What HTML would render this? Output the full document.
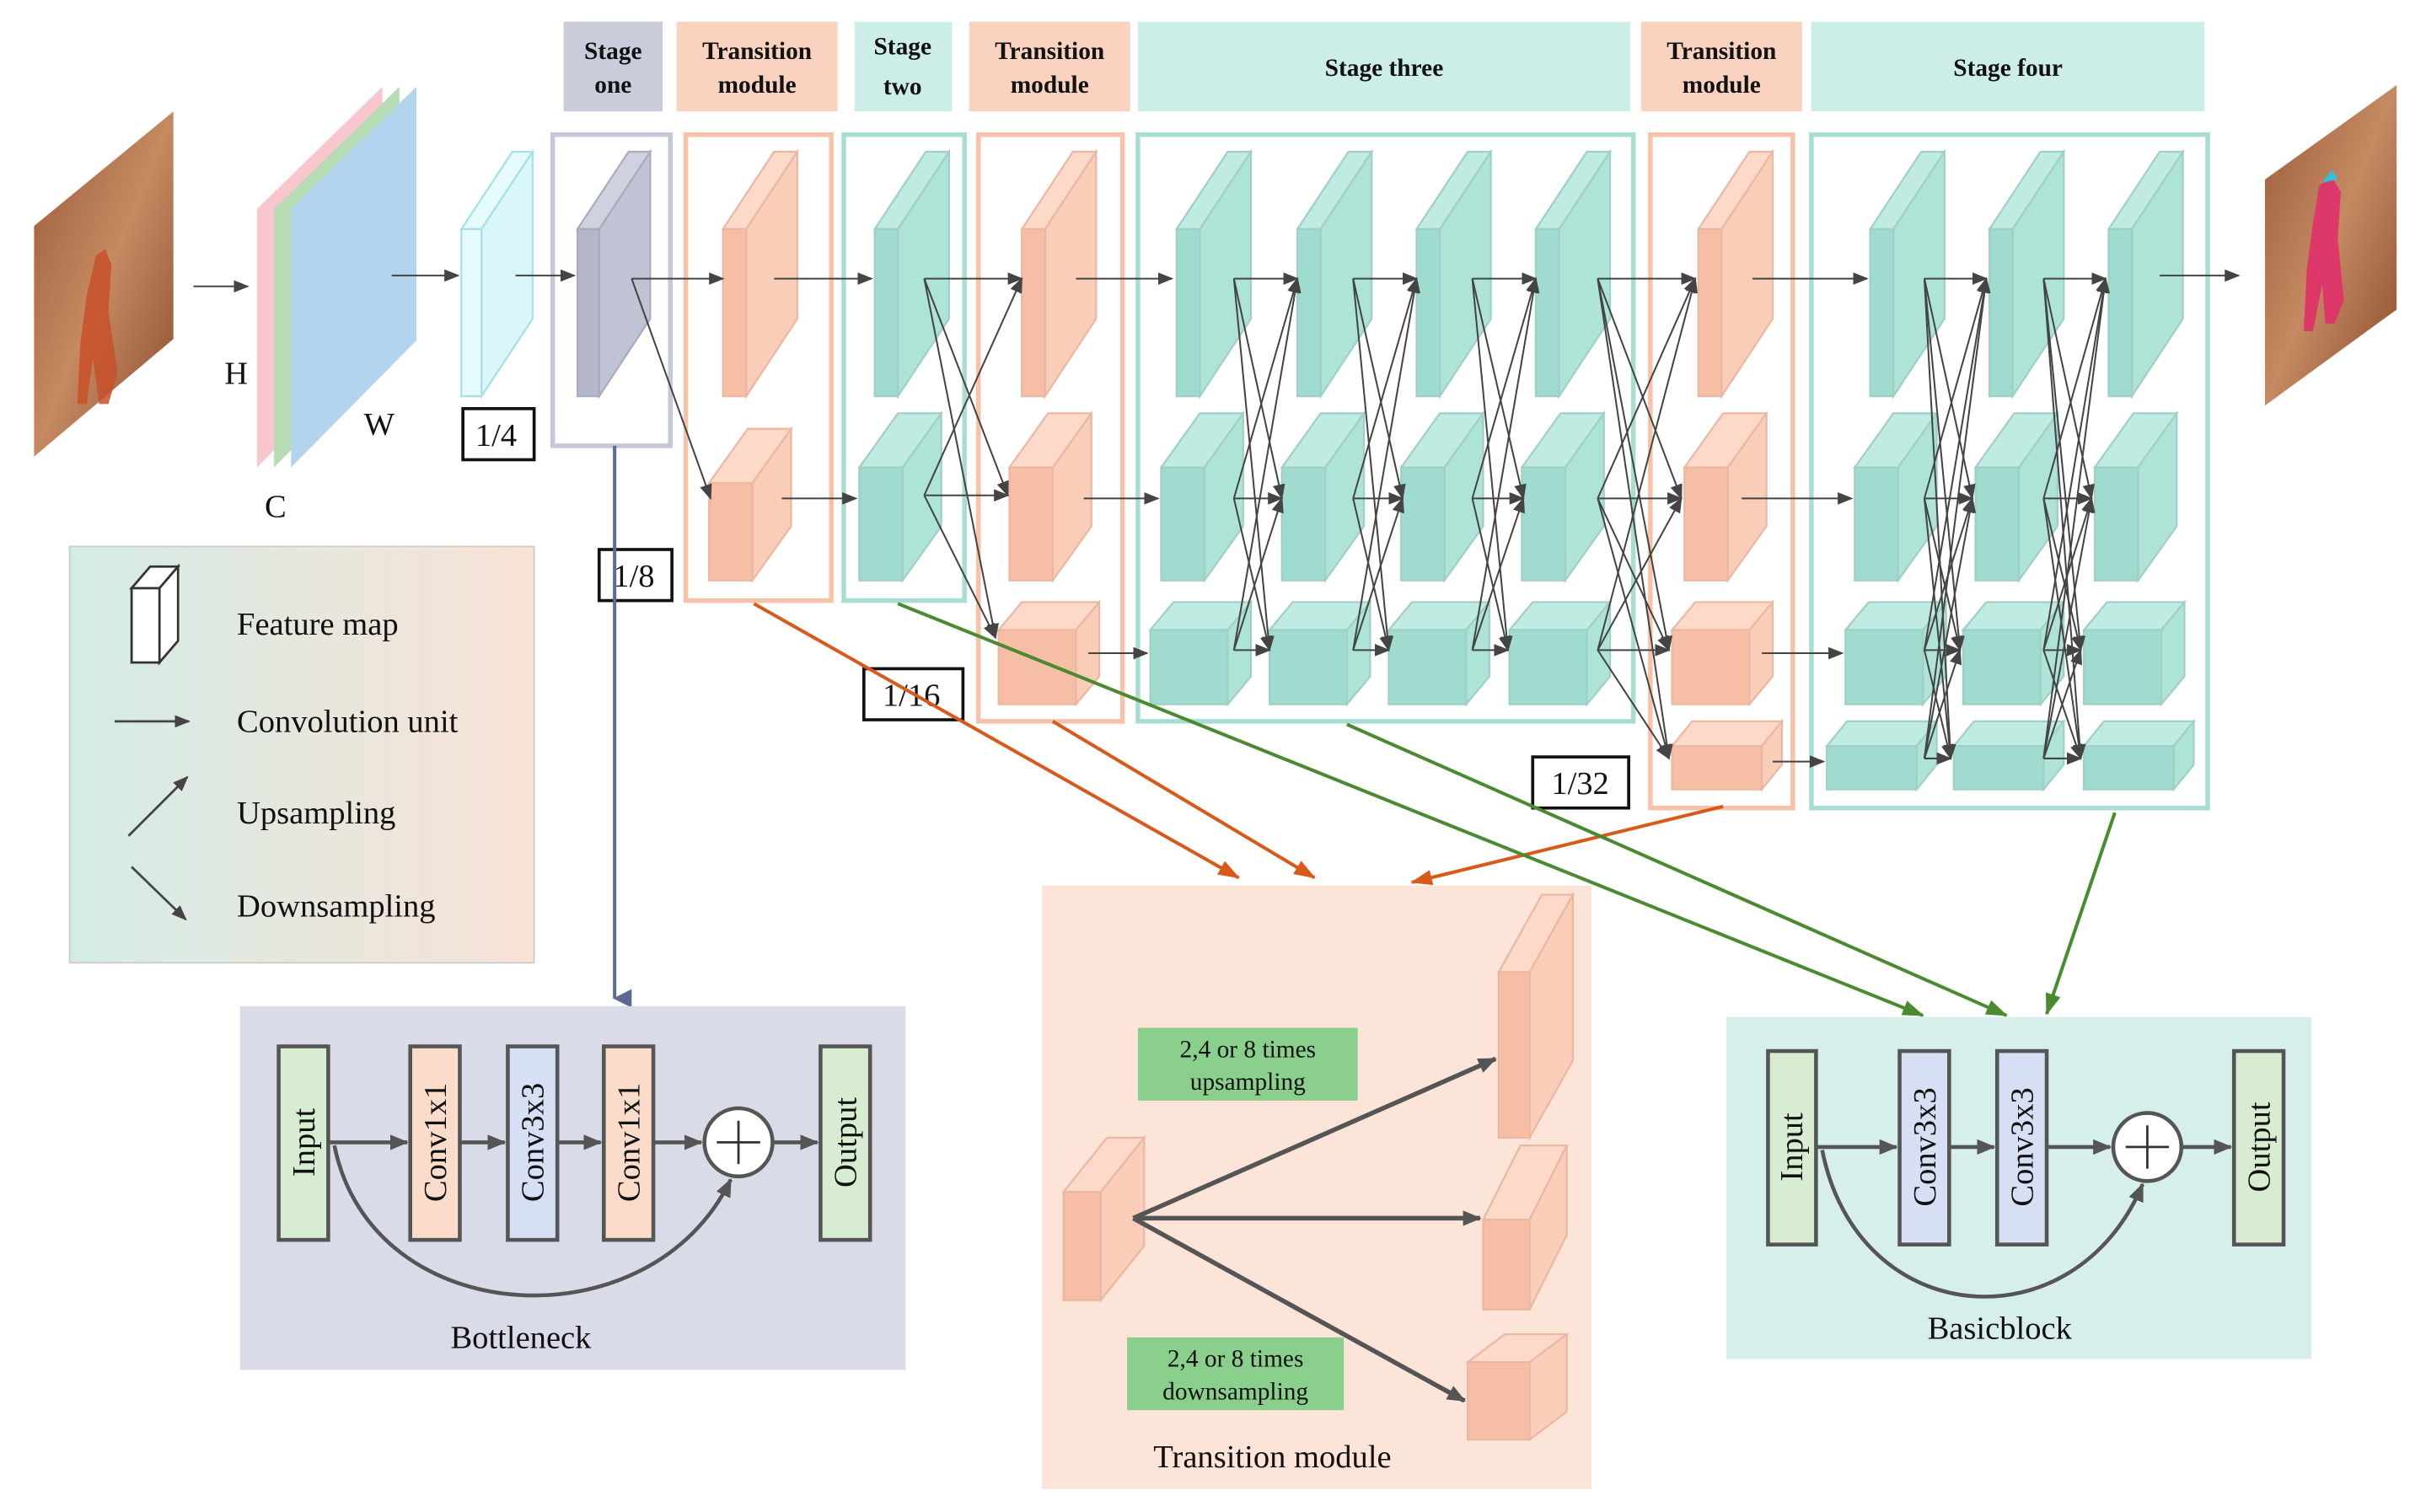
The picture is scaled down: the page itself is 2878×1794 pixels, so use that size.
<!DOCTYPE html>
<html><head><meta charset="utf-8"><style>
html,body{margin:0;padding:0;background:#fff;}
svg{display:block;}
text{font-family:"Liberation Serif",serif;fill:#111;}
.h{font-weight:bold;font-size:16px;text-anchor:middle;}
.b{font-size:21px;}
.v{font-size:21px;text-anchor:middle;}
</style></head><body>
<svg id="s" width="2878" height="1794" viewBox="0 0 1567 976.8" preserveAspectRatio="none" xmlns="http://www.w3.org/2000/svg">
<defs>
<marker id="a" markerWidth="10" markerHeight="8" refX="9" refY="4" orient="auto" markerUnits="userSpaceOnUse"><path d="M0,0L10,4L0,8z" fill="#444"/></marker>
<marker id="ab" markerWidth="12" markerHeight="10" refX="11" refY="5" orient="auto" markerUnits="userSpaceOnUse"><path d="M0,0L12,5L0,10z" fill="#555"/></marker>
<marker id="ao" markerWidth="14" markerHeight="10" refX="13" refY="5" orient="auto" markerUnits="userSpaceOnUse"><path d="M0,0L14,5L0,10z" fill="#d85a1b"/></marker>
<marker id="ag" markerWidth="14" markerHeight="10" refX="13" refY="5" orient="auto" markerUnits="userSpaceOnUse"><path d="M0,0L14,5L0,10z" fill="#4a8a30"/></marker>
<marker id="av" markerWidth="12" markerHeight="12" refX="6" refY="11" orient="auto-start-reverse" markerUnits="userSpaceOnUse"><path d="M0,0L6,12L12,0z" fill="#5a6a90"/></marker>
<linearGradient id="lg" x1="0" x2="1"><stop offset="0" stop-color="#d3ece6"/><stop offset="1" stop-color="#f9e2d6"/></linearGradient>
<linearGradient id="ph" x1="0" y1="0" x2="1" y2="1"><stop offset="0" stop-color="#9a5a38"/><stop offset="0.5" stop-color="#c58a62"/><stop offset="1" stop-color="#8a4a2a"/></linearGradient>
</defs>

<rect x="364" y="14" width="64" height="58" fill="#c9ccdb"/>
<rect x="437" y="14" width="104" height="58" fill="#f9d3c0"/>
<rect x="552" y="14" width="63" height="58" fill="#cdeee8"/>
<rect x="626" y="14" width="104" height="58" fill="#f9d3c0"/>
<rect x="735" y="14" width="318" height="58" fill="#cdeee8"/>
<rect x="1060" y="14" width="104" height="58" fill="#f9d3c0"/>
<rect x="1170" y="14" width="254" height="58" fill="#cdeee8"/>
<text class="h" x="396" y="38">Stage</text><text class="h" x="396" y="60">one</text>
<text class="h" x="489" y="38">Transition</text><text class="h" x="489" y="60">module</text>
<text class="h" x="583" y="35">Stage</text><text class="h" x="583" y="61">two</text>
<text class="h" x="678" y="38">Transition</text><text class="h" x="678" y="60">module</text>
<text class="h" x="894" y="49">Stage three</text>
<text class="h" x="1112" y="38">Transition</text><text class="h" x="1112" y="60">module</text>
<text class="h" x="1297" y="49">Stage four</text>

<g fill="none" stroke-width="3">
<rect x="357" y="87" width="76" height="201" stroke="#c5c8d8"/>
<rect x="443" y="87" width="94" height="301" stroke="#f6c3aa"/>
<rect x="545" y="87" width="78" height="301" stroke="#a9ddd3"/>
<rect x="632" y="87" width="93" height="379" stroke="#f6c3aa"/>
<rect x="735" y="87" width="320" height="379" stroke="#a9ddd3"/>
<rect x="1066" y="87" width="92" height="435" stroke="#f6c3aa"/>
<rect x="1170" y="87" width="256" height="435" stroke="#a9ddd3"/>
</g>

<polygon points="22,146 112,72 112,219 22,295" fill="url(#ph)"/>
<path d="M62,165 l6,-4 l4,10 l-2,30 l6,40 l-6,20 l-6,0 l-4,-30 l-4,30 l-6,0 l2,-40 l4,-30z" fill="#c8502a" opacity="0.85"/>
<polygon points="1463,116 1548,55 1548,200 1463,262" fill="url(#ph)"/>
<path d="M1498,120 l8,-6 l6,10 l-2,30 l4,40 l-6,15 l-6,0 l-2,-25 l-6,30 l-6,0 l2,-40 l4,-30z" fill="#e0306a" opacity="0.9"/>
<path d="M1500,118 l6,-8 l4,6z" fill="#30c0e0"/>

<polygon points="166,135 247,56 247,220 166,302" fill="#f8c6cc"/>
<polygon points="177,135 258,56 258,220 177,302" fill="#b7dcb4"/>
<polygon points="188,135 269,56 269,220 188,302" fill="#b3d4ee"/>
<text class="b" x="145" y="248">H</text>
<text class="b" x="235" y="281">W</text>
<text class="b" x="171" y="334">C</text>

<polygon points="298,148 331,98 344,98 311,148" fill="#e6fbfc" stroke="#a5e0e8" stroke-width="1.2"/>
<polygon points="311,148 344,98 344,206 311,256" fill="#d9f7f9" stroke="#a5e0e8" stroke-width="1.2"/>
<rect x="298" y="148" width="13" height="108" fill="#e4fafb" stroke="#a5e0e8" stroke-width="1.2"/>

<g id="boxes"></g>
<g id="lines" stroke="#444" stroke-width="1.1" fill="none"></g>

<g fill="#fff" stroke="#111" stroke-width="2">
<rect x="299" y="264" width="46" height="33"/>
<rect x="387" y="355" width="47" height="33"/>
<rect x="558" y="432" width="64" height="33"/>
<rect x="990" y="489" width="62" height="33"/>
</g>
<text class="b" x="307" y="288">1/4</text>
<text class="b" x="396" y="379">1/8</text>
<text class="b" x="570" y="456">1/16</text>
<text class="b" x="1002" y="513">1/32</text>

<line x1="397" y1="288" x2="397" y2="645" stroke="#5a6a90" stroke-width="2.2" marker-end="url(#av)"/>
<g stroke="#d85a1b" stroke-width="2.2" fill="none">
<line x1="487" y1="390" x2="800" y2="567" marker-end="url(#ao)"/>
<line x1="680" y1="466" x2="849" y2="567" marker-end="url(#ao)"/>
<line x1="1113" y1="521" x2="912" y2="570" marker-end="url(#ao)"/>
</g>
<g stroke="#4a8a30" stroke-width="2.2" fill="none">
<line x1="580" y1="390" x2="1242" y2="656" marker-end="url(#ag)"/>
<line x1="870" y1="468" x2="1296" y2="656" marker-end="url(#ag)"/>
<line x1="1366" y1="525" x2="1322" y2="655" marker-end="url(#ag)"/>
</g>

<rect x="45" y="353" width="300" height="269" fill="url(#lg)" stroke="#ccc" stroke-width="1"/>
<polygon points="85,380 97,366 115,366 103,380" fill="#fff" stroke="#333" stroke-width="1.5"/>
<polygon points="103,380 115,366 115,414 103,428" fill="#fff" stroke="#333" stroke-width="1.5"/>
<rect x="85" y="380" width="18" height="48" fill="#fff" stroke="#333" stroke-width="1.5"/>
<text class="b" x="153" y="410">Feature map</text>
<line x1="74" y1="466" x2="122" y2="466" stroke="#444" stroke-width="1.5" marker-end="url(#a)"/>
<text class="b" x="153" y="473">Convolution unit</text>
<line x1="83" y1="540" x2="121" y2="502" stroke="#444" stroke-width="1.5" marker-end="url(#a)"/>
<text class="b" x="153" y="532">Upsampling</text>
<line x1="85" y1="560" x2="120" y2="594" stroke="#444" stroke-width="1.5" marker-end="url(#a)"/>
<text class="b" x="153" y="592">Downsampling</text>

<rect x="155" y="650" width="430" height="235" fill="#d9dbe8"/>
<g stroke="#555" stroke-width="2.5">
<rect x="180" y="676" width="32" height="125" fill="#d7ecd0"/>
<rect x="265" y="676" width="32" height="125" fill="#fbdcca"/>
<rect x="328" y="676" width="32" height="125" fill="#d6dff3"/>
<rect x="390" y="676" width="32" height="125" fill="#fbdcca"/>
<rect x="530" y="676" width="32" height="125" fill="#d7ecd0"/>
<circle cx="477" cy="738" r="22" fill="#fff"/>
</g>
<path d="M463,738h28M477,724v28" stroke="#333" stroke-width="1.5"/>
<g stroke="#555" stroke-width="2.5" fill="none">
<line x1="212" y1="738" x2="263" y2="738" marker-end="url(#ab)"/>
<line x1="297" y1="738" x2="326" y2="738" marker-end="url(#ab)"/>
<line x1="360" y1="738" x2="388" y2="738" marker-end="url(#ab)"/>
<line x1="422" y1="738" x2="453" y2="738" marker-end="url(#ab)"/>
<line x1="499" y1="738" x2="528" y2="738" marker-end="url(#ab)"/>
<path d="M216,740 C240,860 420,870 472,762" marker-end="url(#ab)"/>
</g>
<text class="v" transform="translate(203,738) rotate(-90)">Input</text>
<text class="v" transform="translate(288,738) rotate(-90)">Conv1x1</text>
<text class="v" transform="translate(351,738) rotate(-90)">Conv3x3</text>
<text class="v" transform="translate(413,738) rotate(-90)">Conv1x1</text>
<text class="v" transform="translate(553,738) rotate(-90)">Output</text>
<text class="b" x="291" y="871">Bottleneck</text>

<rect x="673" y="572" width="355" height="390" fill="#fde4d8"/>
<g id="tboxes"></g>
<g stroke="#555" stroke-width="3" fill="none">
<line x1="732" y1="787" x2="966" y2="684" marker-end="url(#ab)"/>
<line x1="732" y1="787" x2="956" y2="787" marker-end="url(#ab)"/>
<line x1="732" y1="787" x2="946" y2="905" marker-end="url(#ab)"/>
</g>
<rect x="735" y="664" width="142" height="47" fill="#8bcf8d"/>
<rect x="728" y="864" width="140" height="47" fill="#8bcf8d"/>
<text x="806" y="683" style="font-size:16px;text-anchor:middle">2,4 or 8 times</text>
<text x="806" y="704" style="font-size:16px;text-anchor:middle">upsampling</text>
<text x="798" y="883" style="font-size:16px;text-anchor:middle">2,4 or 8 times</text>
<text x="798" y="904" style="font-size:16px;text-anchor:middle">downsampling</text>
<text class="b" x="745" y="948">Transition module</text>

<rect x="1115" y="657" width="378" height="221" fill="#d6efeb"/>
<g stroke="#555" stroke-width="2.5">
<rect x="1142" y="679" width="31" height="125" fill="#d7ecd0"/>
<rect x="1227" y="679" width="32" height="125" fill="#d6dff3"/>
<rect x="1290" y="679" width="32" height="125" fill="#d6dff3"/>
<rect x="1443" y="679" width="32" height="125" fill="#d7ecd0"/>
<circle cx="1387" cy="741" r="22" fill="#fff"/>
</g>
<path d="M1373,741h28M1387,727v28" stroke="#333" stroke-width="1.5"/>
<g stroke="#555" stroke-width="2.5" fill="none">
<line x1="1173" y1="741" x2="1225" y2="741" marker-end="url(#ab)"/>
<line x1="1259" y1="741" x2="1288" y2="741" marker-end="url(#ab)"/>
<line x1="1322" y1="741" x2="1363" y2="741" marker-end="url(#ab)"/>
<line x1="1409" y1="741" x2="1441" y2="741" marker-end="url(#ab)"/>
<path d="M1177,743 C1200,860 1340,870 1384,765" marker-end="url(#ab)"/>
</g>
<text class="v" transform="translate(1164,741) rotate(-90)">Input</text>
<text class="v" transform="translate(1250,741) rotate(-90)">Conv3x3</text>
<text class="v" transform="translate(1313,741) rotate(-90)">Conv3x3</text>
<text class="v" transform="translate(1466,741) rotate(-90)">Output</text>
<text class="b" x="1245" y="865">Basicblock</text>
</svg>
<script>
(function(){
var NS="http://www.w3.org/2000/svg";
function el(p,t,a){var e=document.createElementNS(NS,t);for(var k in a)e.setAttribute(k,a[k]);p.appendChild(e);return e;}
var C={t:["#9fdccf","#aee3d8","#c0ebe2","#9fcfc6"],p:["#f6bfa5","#f9cdb7","#fcd9c8","#eab8a2"],g:["#b4b7c9","#c0c3d3","#cfd1de","#a9acbe"]};
function box(g,x,y,w,h,dx,dy,c){var k=C[c];var s={stroke:k[3],"stroke-width":1.2};
el(g,"polygon",Object.assign({points:[x,y,x+dx,y+dy,x+w+dx,y+dy,x+w,y].join(","),fill:k[2]},s));
el(g,"polygon",Object.assign({points:[x+w,y,x+w+dx,y+dy,x+w+dx,y+h+dy,x+w,y+h].join(","),fill:k[1]},s));
el(g,"rect",Object.assign({x:x,y:y,width:w,height:h,fill:k[0]},s));}
var B=document.getElementById("boxes");
function r1(x,c,w){box(B,x,148,w||15,108,33,-50,c);}
function r2(x,c){box(B,x,302,28,73,25,-35,c);}
function r3(x,c){box(B,x,407,50,48,15,-18,c);}
function r4(x,c){box(B,x,482,58,28,13,-16,c);}
r1(373,"g",14);r1(467,"p");r1(565,"t");r1(660,"p");[760,838,915,992].forEach(function(x){r1(x,"t");});r1(1097,"p");[1208,1285,1362].forEach(function(x){r1(x,"t");});
box(B,458,312,28,63,25,-35,"p");r2(555,"t");r2(652,"p");[750,828,905,983].forEach(function(x){r2(x,"t");});r2(1088,"p");[1198,1276,1353].forEach(function(x){r2(x,"t");});
r3(645,"p");[743,820,897,975].forEach(function(x){r3(x,"t");});r3(1080,"p");[1192,1268,1346].forEach(function(x){r3(x,"t");});
r4(1080,"p");[1180,1262,1346].forEach(function(x){r4(x,"t");});
var T=document.getElementById("tboxes");
box(T,968,628,20,107,28,-50,"p");box(T,958,788,30,58,24,-48,"p");box(T,948,880,40,50,24,-18,"p");box(T,687,770,24,70,28,-35,"p");
var L=document.getElementById("lines");
function ln(a,b,c,d){el(L,"line",{x1:a,y1:b,x2:c,y2:d,"marker-end":"url(#a)"});}
ln(125,185,160,185);ln(253,178,296,178);ln(333,178,371,178);ln(408,180,467,180);ln(408,180,459,322);
ln(500,180,563,180);ln(505,322,553,322);
[180,320].forEach(function(y){ln(597,y,660,180);ln(597,y,651,320);ln(597,y,643,412);});
ln(695,180,757,180);ln(700,322,748,322);ln(703,422,741,422);
var ys=[180,322,420];
for(var i=0;i<3;i++){var s=797+77*i;var e=[838+77*i,828+78*i,820+77*i];ys.forEach(function(y){for(var j=0;j<3;j++)ln(s,y,e[j],ys[j]);});}
var te=[[1095,180],[1086,322],[1078,420],[1078,490]];
ys.forEach(function(y){te.forEach(function(t){ln(1032,y,t[0],t[1]);});});
ln(1132,180,1206,180);ln(1125,322,1196,322);ln(1138,422,1190,422);ln(1145,492,1178,492);
var y4=[180,322,420,490];
[[1243,[1283,1274,1266,1260]],[1320,[1360,1351,1344,1344]]].forEach(function(p){y4.forEach(function(y){for(var j=0;j<4;j++)ln(p[0],y,p[1][j],y4[j]);});});
ln(1395,178,1446,178);
})();
</script>
</body></html>
